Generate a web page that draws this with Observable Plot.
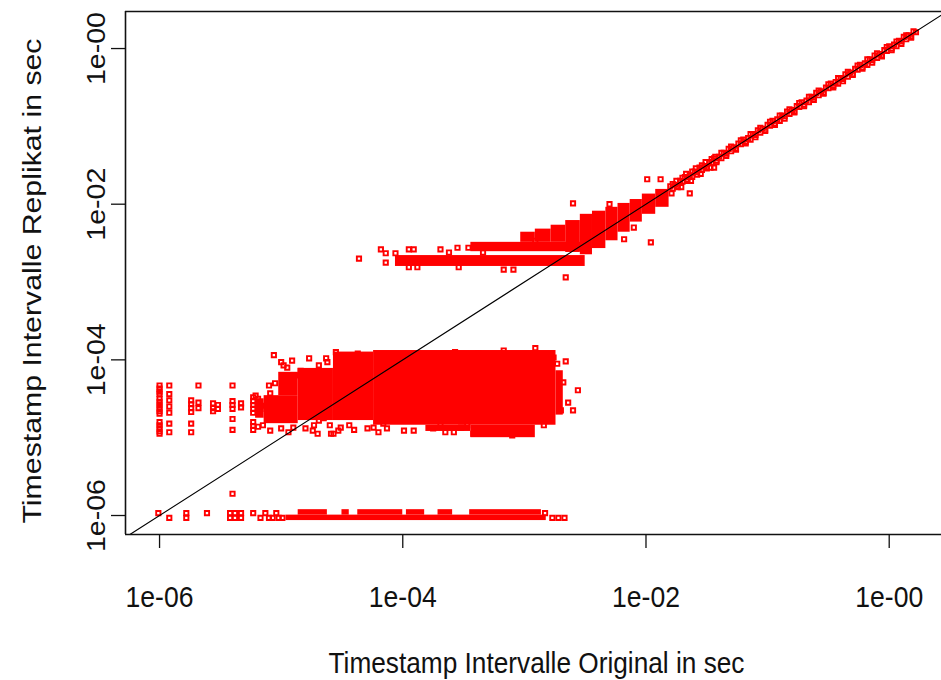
<!DOCTYPE html>
<html><head><meta charset="utf-8">
<script src="https://cdn.jsdelivr.net/npm/d3@7"></script>
<script src="https://cdn.jsdelivr.net/npm/@observablehq/plot@0.6"></script>
<style>html,body{margin:0;padding:0;background:#fff;overflow:hidden}</style>
</head><body><div id="chart"></div>
<script>
// ---- tick values & labels ----
const xTickValues = [1e-6, 1e-4, 1e-2, 1];
const xTickLabels = ["1e-06", "1e-04", "1e-02", "1e-00"];
const yTickValues = [1e-6, 1e-4, 1e-2, 1];
const yTickLabels = ["1e-06", "1e-04", "1e-02", "1e-00"];
const xTitle = "Timestamp Intervalle Original in sec";
const yTitle = "Timestamp Intervalle Replikat in sec";

// ---- data: log10(seconds) pairs [original, replikat] ----
// bottom row (replikat ~ 1e-06), sparse points
const bottomRowPts = [
  [-6.01,-5.97],[-5.92,-6.03],[-5.78,-5.97],[-5.78,-6.03],[-5.61,-5.97],
  [-5.42,-5.97],[-5.42,-6.03],[-5.38,-5.97],[-5.38,-6.03],[-5.33,-5.97],[-5.33,-6.03],
  [-5.23,-5.97],[-5.17,-6.03],[-5.13,-5.97],[-5.10,-6.03],[-5.07,-6.03],[-5.04,-5.97],
  [-5.02,-6.03],[-4.99,-6.03],[-2.83,-5.97],[-2.77,-6.03],[-2.72,-6.03],[-2.67,-6.03],
  [-5.40,-5.72]
];
// saturated stretches of the bottom row [x1, x2, y1, y2]
const bottomBands = [
  [-4.96,-2.82,-6.065,-5.995],
  [-4.86,-4.62,-5.995,-5.925],[-4.50,-4.44,-5.995,-5.925],[-4.37,-4.00,-5.995,-5.925],
  [-3.97,-3.82,-5.995,-5.925],[-3.71,-3.59,-5.995,-5.925],[-3.45,-2.86,-5.995,-5.925]
];
// left columns of the middle cloud
const leftColumnPts = [
  [-6.0,-4.33],[-6.0,-4.37],[-6.0,-4.41],[-6.0,-4.44],[-6.0,-4.50],[-6.0,-4.54],[-6.0,-4.58],
  [-6.0,-4.62],[-6.0,-4.66],[-6.0,-4.69],[-6.0,-4.80],[-6.0,-4.84],[-6.0,-4.88],[-6.0,-4.92],[-6.0,-4.95],
  [-5.92,-4.33],[-5.92,-4.44],[-5.92,-4.52],[-5.92,-4.60],[-5.92,-4.68],[-5.92,-4.82],[-5.92,-4.93],
  [-5.74,-4.52],[-5.74,-4.57],[-5.74,-4.62],[-5.74,-4.67],[-5.74,-4.82],[-5.74,-4.93],
  [-5.68,-4.33],[-5.68,-4.55],[-5.68,-4.62],
  [-5.56,-4.56],[-5.56,-4.62],[-5.56,-4.66],[-5.52,-4.58],[-5.52,-4.63],
  [-5.40,-4.33],[-5.40,-4.53],[-5.40,-4.58],[-5.40,-4.63],[-5.40,-4.76],[-5.40,-4.90],
  [-5.33,-4.56],[-5.33,-4.61],
  [-5.23,-4.48],[-5.23,-4.53],[-5.23,-4.58],[-5.23,-4.63],[-5.23,-4.68],[-5.23,-4.80],[-5.23,-4.85],[-5.23,-4.90],
  [-5.19,-4.50],[-5.19,-4.62],[-5.19,-4.68],[-5.19,-4.86]
];
// scattered points around the middle cloud
const cloudEdgePts = [
  [-5.06,-3.94],[-5.00,-4.03],[-4.95,-4.10],[-4.77,-3.98],[-4.62,-4.03],[-4.55,-3.90],[-4.51,-4.03],
  [-4.43,-3.94],[-4.37,-3.92],[-4.35,-4.05],[-4.29,-4.03],[-2.91,-3.85],[-3.17,-3.88],[-3.38,-3.92],[-3.57,-3.90],
  [-4.90,-4.87],[-4.74,-4.91],[-4.70,-4.95],[-4.57,-4.95],[-4.51,-4.87],[-4.29,-4.88],[-4.24,-4.87],
  [-4.16,-4.82],[-4.13,-4.88],[-3.99,-4.91],[-3.91,-4.91],[-3.81,-4.78],[-3.69,-4.84],[-3.65,-4.93],
  [-3.58,-4.93],[-3.52,-4.87],[-3.47,-4.84],[-3.42,-4.95],[-3.34,-4.95],[-3.03,-4.91],[-2.97,-4.88],[-2.84,-4.84],
  [-2.68,-4.29],[-2.56,-4.39],[-2.64,-4.55],[-2.60,-4.65],[-2.70,-4.65],[-2.73,-4.05],[-2.76,-3.97],
  [-5.05,-4.30],[-5.09,-4.43],[-4.95,-4.39],[-5.06,-4.69],[-4.96,-4.69],[-5.13,-4.59],[-5.17,-4.63],
  [-4.80,-4.88],[-4.73,-4.84],[-4.69,-4.78],[-4.65,-4.75],[-4.59,-4.95],[-4.53,-4.91],[-4.78,-4.46],[-4.70,-4.65],
  [-4.98,-4.07],[-4.91,-4.01],[-4.84,-4.14],[-4.69,-4.07],[-4.63,-3.98],[-5.15,-4.84],[-5.09,-4.91],
  [-5.00,-4.88],[-4.94,-4.93],[-5.21,-4.46],[-5.10,-4.33],[-4.88,-4.20],[-4.92,-4.27],[-4.60,-4.84],
  [-4.44,-4.84],[-4.40,-4.90],[-4.20,-4.93],[-3.75,-4.88],[-3.10,-4.97],[-2.78,-4.78],[-2.66,-4.02]
];
// saturated parts of the middle cloud [x1, x2, y1, y2]
const cloudBands = [
  [-4.24,-2.74,-4.84,-3.88],
  [-3.44,-2.91,-5.00,-4.84],
  [-3.81,-3.44,-4.92,-4.84],
  [-2.74,-2.68,-4.71,-4.14],
  [-4.57,-4.24,-4.78,-3.90],
  [-4.86,-4.57,-4.78,-4.11],
  [-5.14,-4.86,-4.82,-4.46],
  [-5.02,-4.86,-4.46,-4.16],
  [-5.21,-5.14,-4.75,-4.50]
];
// upper band (replikat ~ 2e-03) sparse points
const bandPts = [
  [-4.36,-2.70],[-4.18,-2.58],[-4.14,-2.63],[-4.14,-2.75],[-4.06,-2.63],[-3.95,-2.58],[-3.91,-2.58],
  [-3.95,-2.81],[-3.88,-2.81],[-3.69,-2.58],[-3.62,-2.62],[-3.55,-2.56],[-3.46,-2.56],[-3.54,-2.81],
  [-3.17,-2.84],[-3.09,-2.84],[-3.34,-2.62],[-3.29,-2.56],[-3.25,-2.56],[-2.91,-2.47],[-2.73,-2.43],
  [-2.60,-1.99],[-2.66,-2.94],[-1.96,-2.49],[-1.99,-1.68],[-1.88,-1.68],[-1.64,-1.86],[-1.44,-1.53],
  [-2.18,-2.45],[-2.10,-2.30],[-2.30,-2.00]
];
// saturated parts of the upper band [x1, x2, y1, y2]
const upperBands = [
  [-4.06,-2.50,-2.80,-2.66],
  [-3.44,-2.50,-2.61,-2.49],
  [-3.03,-2.91,-2.49,-2.36],
  [-2.91,-2.78,-2.49,-2.32],
  [-2.78,-2.66,-2.49,-2.27],
  [-2.66,-2.54,-2.62,-2.21],
  [-2.54,-2.44,-2.65,-2.13],
  [-2.44,-2.33,-2.57,-2.09],
  [-2.33,-2.23,-2.47,-2.04],
  [-2.23,-2.13,-2.36,-1.99],
  [-2.13,-2.03,-2.23,-1.94],
  [-2.03,-1.92,-2.13,-1.87],
  [-1.92,-1.81,-2.04,-1.81]
];
// points along the diagonal
const diagonalPts = [
  [-1.80,-1.77],[-1.78,-1.80],[-1.76,-1.75],[-1.74,-1.77],[-1.72,-1.70],[-1.70,-1.71],
  [-1.68,-1.65],[-1.66,-1.68],[-1.64,-1.63],[-1.62,-1.65],[-1.60,-1.58],[-1.58,-1.59],
  [-1.56,-1.53],[-1.54,-1.56],[-1.52,-1.51],[-1.50,-1.53],[-1.48,-1.46],[-1.46,-1.47],
  [-1.44,-1.41],[-1.42,-1.44],[-1.40,-1.39],[-1.38,-1.41],[-1.36,-1.34],[-1.34,-1.35],
  [-1.32,-1.29],[-1.30,-1.32],[-1.28,-1.27],[-1.26,-1.29],[-1.24,-1.22],[-1.22,-1.23],
  [-1.20,-1.17],[-1.18,-1.20],[-1.16,-1.15],[-1.14,-1.17],[-1.12,-1.10],[-1.10,-1.11],
  [-1.08,-1.05],[-1.06,-1.08],[-1.04,-1.03],[-1.02,-1.05],[-1.00,-0.98],[-0.98,-0.99],
  [-0.96,-0.93],[-0.94,-0.96],[-0.92,-0.91],[-0.90,-0.93],[-0.88,-0.86],[-0.86,-0.87],
  [-0.84,-0.81],[-0.82,-0.84],[-0.80,-0.79],[-0.78,-0.81],[-0.76,-0.74],[-0.74,-0.75],
  [-0.72,-0.69],[-0.70,-0.72],[-0.68,-0.67],[-0.66,-0.69],[-0.64,-0.62],[-0.62,-0.63],
  [-0.60,-0.57],[-0.58,-0.60],[-0.56,-0.55],[-0.54,-0.57],[-0.52,-0.50],[-0.50,-0.51],
  [-0.48,-0.45],[-0.46,-0.48],[-0.44,-0.43],[-0.42,-0.45],[-0.40,-0.38],[-0.38,-0.39],
  [-0.36,-0.33],[-0.34,-0.36],[-0.32,-0.31],[-0.30,-0.33],[-0.28,-0.26],[-0.26,-0.27],
  [-0.24,-0.21],[-0.22,-0.24],[-0.20,-0.19],[-0.18,-0.21],[-0.16,-0.14],[-0.14,-0.15],
  [-0.12,-0.09],[-0.10,-0.12],[-0.08,-0.07],[-0.06,-0.09],[-0.04,-0.02],[-0.02,-0.03],
  [0.00,0.03],[0.02,0.00],[0.04,0.05],[0.06,0.03],[0.08,0.10],[0.10,0.09],
  [0.12,0.15],[0.14,0.12],[0.16,0.17],[0.18,0.15],[0.20,0.22],[0.22,0.21],
  [-1.79,-1.86],[-1.75,-1.70],[-1.71,-1.78],[-1.67,-1.61],[-1.63,-1.70],[-1.59,-1.54],
  [-1.55,-1.61],[-1.51,-1.46],[-1.47,-1.53],[-1.43,-1.39]
];
// outer edge points of the diagonal band
const diagonalEdgePts = [
  [-1.78,-1.74],[-1.74,-1.78],[-1.70,-1.66],[-1.66,-1.70],[-1.62,-1.58],[-1.58,-1.62],
  [-1.54,-1.50],[-1.50,-1.54],[-1.46,-1.42],[-1.42,-1.46],[-1.38,-1.34],[-1.34,-1.38],
  [-1.30,-1.26],[-1.26,-1.30],[-1.22,-1.18],[-1.18,-1.22],[-1.14,-1.10],[-1.10,-1.14],
  [-1.06,-1.02],[-1.02,-1.06],[-0.98,-0.94],[-0.94,-0.98],[-0.90,-0.86],[-0.86,-0.90],
  [-0.82,-0.78],[-0.78,-0.82],[-0.74,-0.70],[-0.70,-0.74],[-0.66,-0.62],[-0.62,-0.66],
  [-0.58,-0.54],[-0.54,-0.58],[-0.50,-0.46],[-0.46,-0.50],[-0.42,-0.38],[-0.38,-0.42],
  [-0.34,-0.30],[-0.30,-0.34],[-0.26,-0.22],[-0.22,-0.26],[-0.18,-0.14],[-0.14,-0.18],
  [-0.10,-0.06],[-0.06,-0.10],[-0.02,0.02],[0.02,-0.02],[0.06,0.09],[0.10,0.06],
  [0.14,0.17],[0.18,0.14]
];

const toSec = v => Math.pow(10, v);
const points = [...bottomRowPts, ...leftColumnPts, ...cloudEdgePts, ...bandPts, ...diagonalPts, ...diagonalEdgePts]
  .map(([a, b]) => ({orig: toSec(a), repl: toSec(b)}));
const dense = [...bottomBands, ...cloudBands, ...upperBands]
  .map(([a, b, c, d]) => ({x1: toSec(a), x2: toSec(b), y1: toSec(c), y2: toSec(d)}));

const xDomain = [toSec(-6.28), toSec(0.43)];
const yDomain = [toSec(-6.244), toSec(0.476)];
const identity = [toSec(-6.244), toSec(0.43)];

const chart = Plot.plot({
  width: 941, height: 680,
  marginLeft: 125, marginRight: 0, marginTop: 11, marginBottom: 146,
  x: {type: "log", domain: xDomain},
  y: {type: "log", domain: yDomain},
  style: {fontFamily: "'Liberation Sans', Arial, sans-serif", background: "#fff", color: "#111"},
  marks: [
    Plot.rect(dense, {x1: "x1", x2: "x2", y1: "y1", y2: "y2", fill: "#ff0000"}),
    Plot.dot(points, {x: "orig", y: "repl", symbol: "square", r: 2.4, stroke: "#ff0000", strokeWidth: 1.9, fill: "none"}),
    Plot.line(identity, {x: d => d, y: d => d, stroke: "#000", strokeWidth: 1.1}),
    Plot.ruleY([yDomain[0], yDomain[1]], {stroke: "#111", strokeWidth: 1.6}),
    Plot.ruleX([xDomain[0]], {stroke: "#111", strokeWidth: 1.6}),
    Plot.axisX({ticks: xTickValues, tickSize: 14, tickFormat: () => "", label: null, strokeWidth: 1.3}),
    Plot.axisY({ticks: yTickValues, tickSize: 14, tickFormat: () => "", label: null, strokeWidth: 1.3}),
    Plot.text(xTickValues, {x: d => d, text: (d, i) => xTickLabels[i], frameAnchor: "bottom", dy: 63, lineAnchor: "middle", fontSize: 30}),
    Plot.text(yTickValues, {y: d => d, text: (d, i) => yTickLabels[i], frameAnchor: "left", dx: -21, rotate: -90, textAnchor: "middle", lineAnchor: "bottom", fontSize: 26}),
    Plot.text([xTitle], {text: d => d, frameAnchor: "bottom", dx: 3, dy: 129, lineAnchor: "middle", fontSize: 30}),
    Plot.text([yTitle], {text: d => d, frameAnchor: "left", dx: -85, dy: 8, rotate: -90, textAnchor: "middle", lineAnchor: "bottom", fontSize: 26})
  ]
});

// narrow glyphs like the reference (stretched raster)
chart.querySelectorAll("text").forEach(t => {
  const s = t.textContent;
  const tr = (t.getAttribute("transform") || "") + (t.parentNode.getAttribute("transform") || "");
  const rot = tr.includes("rotate");
  let len = null;
  if (/^1e-0\d$/.test(s)) len = rot ? 73 : 68;
  else if (s === xTitle) len = 416;
  else if (s === yTitle) len = 485;
  if (len) { t.setAttribute("textLength", len); t.setAttribute("lengthAdjust", "spacingAndGlyphs"); }
});
document.getElementById("chart").appendChild(chart);
</script></body></html>
